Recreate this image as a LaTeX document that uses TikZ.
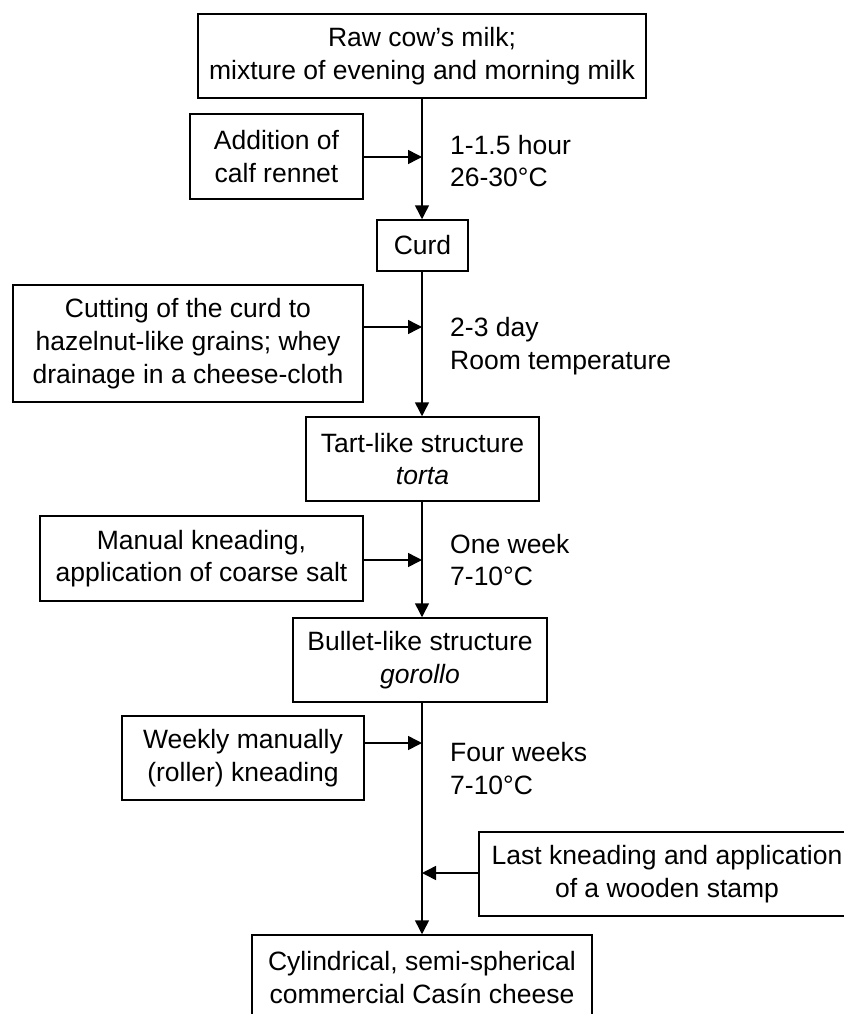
\documentclass[tikz,border=0pt]{standalone}
\usepackage{fontspec}
\setmainfont{Liberation Sans}
\usetikzlibrary{arrows.meta}
\tikzset{
    box/.style={draw, line width=1.5pt, inner sep=2pt, align=center,
        font=\fontsize{26.5}{32.7}\selectfont},
    note/.style={anchor=west, inner sep=0pt, align=left,
        font=\fontsize{26.5}{32.7}\selectfont},
    flowArrow/.style={line width=1.5pt, -{Triangle[length=14pt, width=14pt]}}
}
\newcommand{\stepBox}[7][]{
    \node[box, minimum width=#4, minimum height=#5, #1] (#6) at (#2, #3) {#7};
}
\newcommand{\condition}[4][]{
    \node[note, #1] (#2) at (#3) {#4};
}
\newcommand{\flow}[3][]{
	\draw[flowArrow, #1] (#2) -- (#3);
}
\newcommand{\inflow}[3][]{
	\draw[flowArrow, #1] (#2 |- #3) -- (#3);
}

\begin{document}
\begin{tikzpicture}[x=1pt, y=-1pt]
	\useasboundingbox (0,0) rectangle (843,1014);

	\stepBox{422}{56}{448}{84}{milk}{Raw cow’s milk;\\mixture of evening and morning milk};
	\stepBox{276.5}{156.5}{173}{85}{rennet}{Addition of\\calf rennet};
	\stepBox{422.5}{245.5}{91}{51}{curd}{Curd};
	\stepBox{188}{343.5}{350}{117}{cutting}{Cutting of the curd to\\hazelnut-like grains; whey\\drainage in a cheese-cloth};
	\stepBox{422.5}{459}{233}{84}{torta}{Tart-like structure\\\textit{torta}};
	\stepBox{201.5}{558.5}{323}{85}{salting}{Manual kneading,\\application of coarse salt};
	\stepBox{420}{660}{254}{84}{gorollo}{Bullet-like structure\\\textit{gorollo}};
	\stepBox{243}{758}{242}{84}{rolling}{Weekly manually\\(roller) kneading};
	\stepBox{667}{874}{376}{84}{stamp}{Last kneading and application\\of a wooden stamp};
	\stepBox{422}{977.5}{340}{85}{casin}{Cylindrical, semi-spherical\\commercial Casín cheese};

	\coordinate (j1) at (422, 157);
	\coordinate (j2) at (422, 327);
	\coordinate (j3) at (422, 560);
	\coordinate (j4) at (422, 743);
	\coordinate (j5) at (422, 873);

	\flow{milk.south -| j1}{curd.north -| j1};
	\flow{curd.south -| j2}{torta.north -| j2};
	\flow{torta.south -| j3}{gorollo.north -| j3};
	\flow{gorollo.south -| j4}{casin.north -| j4};

	\inflow{rennet.east}{j1};
	\inflow{cutting.east}{j2};
	\inflow{salting.east}{j3};
	\inflow{rolling.east}{j4};
	\inflow{stamp.west}{j5};

	\condition{t1}{450, 161}{1-1.5 hour\\26-30°C};
	\condition{t2}{450, 346}{2-3 day\\Room temperature};
	\condition{t3}{450, 560}{One week\\7-10°C};
	\condition{t4}{450, 768.5}{Four weeks\\7-10°C};
\end{tikzpicture}
\end{document}
